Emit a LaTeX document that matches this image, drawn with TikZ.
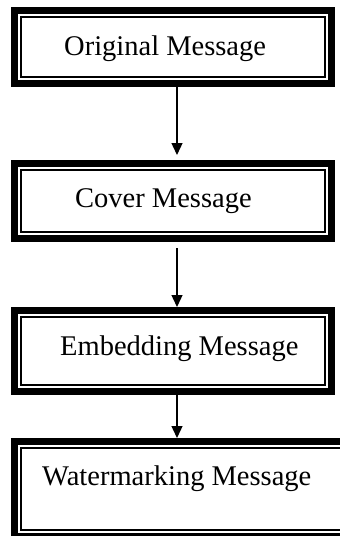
\documentclass[tikz,border=0pt]{standalone}
\usepackage{fontspec}
\setmainfont{Liberation Serif}
\usetikzlibrary{arrows.meta}
\tikzset{
  framebox/.style={draw=black, line width=7pt, rectangle, minimum width=317pt, inner sep=0pt, fill=white},
  txt/.style={anchor=base west, inner sep=0pt, font=\fontsize{28.5pt}{34pt}\selectfont, text=black},
  arr/.style={line width=1.3pt, -{Triangle[length=12pt,width=11pt]}}
}
\newcommand{\innerframe}[1]{%
  \draw[line width=1.1pt] ([shift={(10pt,-10pt)}]#1.north west) rectangle ([shift={(-10pt,10pt)}]#1.south east);}
\begin{document}
\begin{tikzpicture}[x=1pt,y=-1pt]
\clip (0,0) rectangle (340,536);
\fill[white] (0,0) rectangle (340,536);
\coordinate (ax) at (177,0);
% boxes (outer edges: b1 7-87, b2 160-242, b3 307-395, b4 438-540)
\node[framebox, minimum height=73pt] (b1) at (173,47) {};
\node[framebox, minimum height=75pt] (b2) at (173,201) {};
\node[framebox, minimum height=81pt] (b3) at (173,351) {};
\node[framebox, minimum height=95pt, minimum width=342pt] (b4) at (185.5,489) {};
\innerframe{b1}
\innerframe{b2}
\innerframe{b3}
\innerframe{b4}
% texts
\node[txt] (t1) at (64,55) {Original Message};
\node[txt] (t2) at (75,207) {Cover Message};
\node[txt] (t3) at (60,355) {Embedding Message};
\node[txt] (t4) at (42,485) {Watermarking Message};
% arrows
\draw[arr, shorten >=5pt] (b1.south -| ax) -- (b2.north -| ax);
\draw[arr, shorten <=6pt] (b2.south -| ax) -- (b3.north -| ax);
\draw[arr] (b3.south -| ax) -- (b4.north -| ax);
\end{tikzpicture}
\end{document}
